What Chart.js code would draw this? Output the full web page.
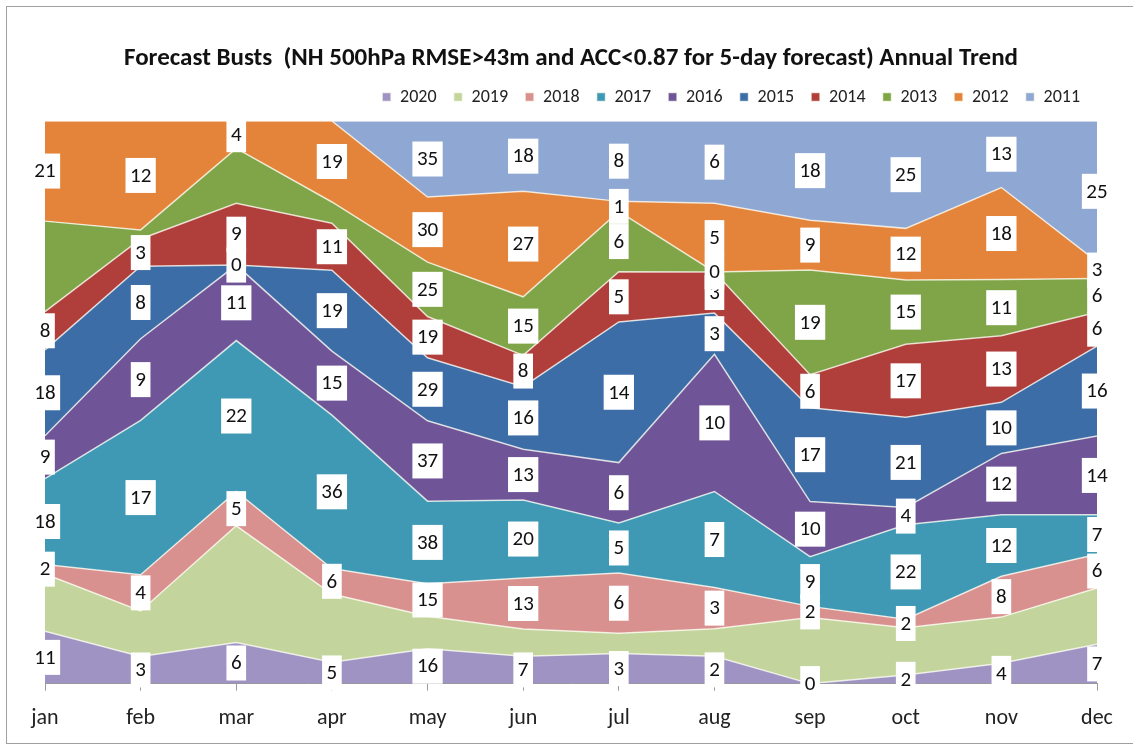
<!DOCTYPE html>
<html>
<head>
<meta charset="utf-8">
<script src="https://cdn.jsdelivr.net/npm/chart.js@4.4.1/dist/chart.umd.min.js"></script>
<style>
  html, body { margin: 0; padding: 0; background: #fff; }
  #wrap { width: 1133px; height: 747px; }
</style>
</head>
<body>
<div id="wrap"><canvas id="bustChart" width="1133" height="747"></canvas></div>
<script>
// Monthly bust counts per year (stacked, shown as share of month total)
const months = ['jan', 'feb', 'mar', 'apr', 'may', 'jun', 'jul', 'aug', 'sep', 'oct', 'nov', 'dec'];
const years = ['2020', '2019', '2018', '2017', '2016', '2015', '2014', '2013', '2012', '2011'];

const y2020 = [11, 3, 6, 5, 16, 7, 3, 2, 0, 2, 4, 7];
const y2019 = [12, 5, 17, 16, 15, 7, 2, 2, 12, 11, 9, 10];
const y2018 = [2, 4, 5, 6, 15, 13, 6, 3, 2, 2, 8, 6];
const y2017 = [18, 17, 22, 36, 38, 20, 5, 7, 9, 22, 12, 7];
const y2016 = [9, 9, 11, 15, 37, 13, 6, 10, 10, 4, 12, 14];
const y2015 = [18, 8, 0, 19, 29, 16, 14, 3, 17, 21, 10, 16];
const y2014 = [8, 3, 9, 11, 19, 8, 5, 3, 6, 17, 13, 6];
const y2013 = [19, 1, 8, 5, 25, 15, 6, 0, 19, 15, 11, 6];
const y2012 = [21, 12, 4, 19, 30, 27, 1, 5, 9, 12, 18, 3];
const y2011 = [0, 0, 0, 0, 35, 18, 8, 6, 18, 25, 13, 25];

// labels that the original chart does not show: [year, first month, last month]
const hiddenLabels = [['2019', 0, 11], ['2013', 0, 3], ['2011', 0, 3]];

const series = [y2020, y2019, y2018, y2017, y2016, y2015, y2014, y2013, y2012, y2011];
const colors = ['#9f93c3', '#c3d59d', '#d9918f', '#4099b4', '#6f5598', '#3d6da7', '#b03f3c', '#80a548', '#e4843a', '#8fa7d3'];

const FONT = 'Carlito, "Liberation Sans Narrow", "Open Sans", sans-serif';

// month totals -> percent so the stack fills the plot like the 100% area chart
const totals = months.map((m, j) => series.reduce((s, arr) => s + arr[j], 0));

function isHidden(year, j) {
    return hiddenLabels.some(h => h[0] === year && j >= h[1] && j <= h[2]);
}

const frame = {
    id: 'frame',
    beforeDraw(chart) {
        const ctx = chart.ctx;
        ctx.save();
        ctx.fillStyle = '#fff';
        ctx.fillRect(0, 0, chart.width, chart.height);
        ctx.strokeStyle = '#a0a0a0';
        ctx.lineWidth = 1;
        ctx.strokeRect(6.5, 6.5, chart.width + 10, chart.height - 10);
        ctx.restore();
    }
};

// a bit of room between the legend and the plot
const legendGap = {
    id: 'legendGap',
    beforeInit(chart) {
        const fit = chart.legend.fit;
        chart.legend.fit = function() {
            fit.bind(chart.legend)();
            this.height += 5;
        };
    }
};

const valueLabels = {
    id: 'valueLabels',
    afterDatasetsDraw(chart) {
        const ctx = chart.ctx;
        const base = chart.scales.y.getPixelForValue(0);
        ctx.save();
        ctx.font = '21px ' + FONT;
        ctx.textAlign = 'center';
        ctx.textBaseline = 'middle';
        chart.data.datasets.forEach((ds, i) => {
            const meta = chart.getDatasetMeta(i);
            const below = i > 0 ? chart.getDatasetMeta(i - 1) : null;
            meta.data.forEach((pt, j) => {
                if (isHidden(ds.label, j)) return;
                const bottom = below ? below.data[j].y : base;
                const mid = (pt.y + bottom) / 2;
                const txt = String(series[i][j]);
                const w = ctx.measureText(txt).width + 9;
                const h = 35;
                ctx.fillStyle = '#fff';
                ctx.fillRect(pt.x - w / 2, mid - h / 2, w, h);
                ctx.fillStyle = '#111';
                ctx.fillText(txt, pt.x, mid + 1);
            });
        });
        ctx.restore();
    }
};

const ctx = document.getElementById('bustChart').getContext('2d');
new Chart(ctx, {
    type: 'line',
    data: {
        labels: months,
        datasets: years.map((yr, i) => ({
            label: yr,
            data: series[i].map((v, j) => v / totals[j] * 100),
            backgroundColor: colors[i],
            borderColor: 'rgba(255,255,245,0.75)',
            borderWidth: 1.5,
            fill: i === 0 ? 'origin' : '-1',
            pointRadius: 0,
            tension: 0
        }))
    },
    options: {
        responsive: false,
        animation: false,
        layout: {
            padding: { left: 45, right: 36, top: 0, bottom: 0 }
        },
        plugins: {
            title: {
                display: true,
                text: 'Forecast Busts  (NH 500hPa RMSE>43m and ACC<0.87 for 5-day forecast) Annual Trend',
                color: '#111',
                font: { family: FONT, size: 25, weight: 'bold', lineHeight: 1.0 },
                padding: { top: 46, bottom: 0 }
            },
            legend: {
                display: true,
                position: 'top',
                align: 'end',
                labels: {
                    color: '#222',
                    font: { family: FONT, size: 18 },
                    boxWidth: 9,
                    boxHeight: 9,
                    padding: 17
                }
            },
            tooltip: { enabled: false }
        },
        scales: {
            x: {
                offset: false,
                grid: {
                    drawOnChartArea: false,
                    drawTicks: true,
                    tickLength: 7,
                    color: '#999'
                },
                border: { display: true, color: '#999' },
                ticks: {
                    color: '#222',
                    font: { family: FONT, size: 22 },
                    padding: 15,
                    maxRotation: 0
                }
            },
            y: {
                stacked: true,
                min: 0,
                max: 100,
                display: false
            }
        }
    },
    plugins: [frame, legendGap, valueLabels]
});
</script>
</body>
</html>
